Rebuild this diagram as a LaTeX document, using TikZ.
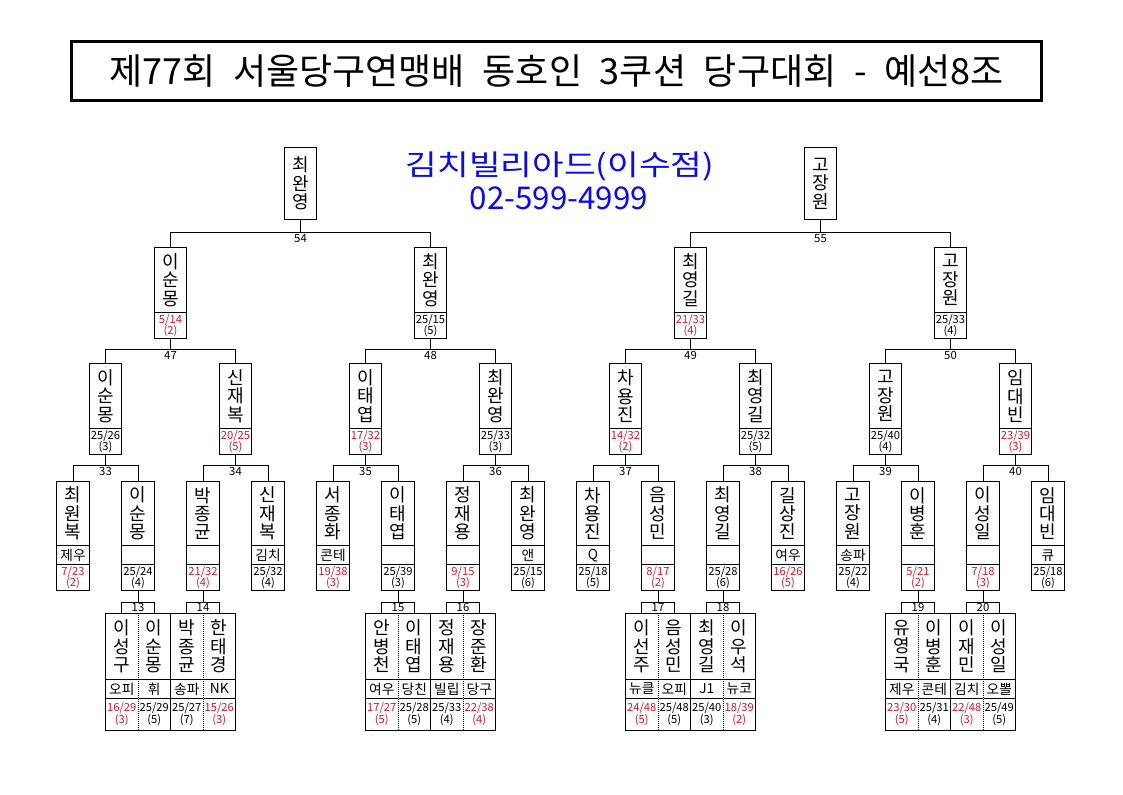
\documentclass[tikz,border=0pt]{standalone}
\usepackage{fontspec}
\setmainfont{Noto Sans CJK KR}
\newfontfamily\titlefont{Noto Sans CJK KR}[WordSpace=2.2]
\usepackage{graphicx}
\usepackage{tikz}
\usetikzlibrary{shapes.multipart}
\definecolor{losered}{RGB}{210,25,45}
\definecolor{hallblue}{RGB}{10,10,235}

% 칸 내용 (cell contents)
\newcommand{\pname}[2][47.8pt]{\parbox[c][#1][c]{24.4pt}{\centering\fontsize{13.5}{13.8}\selectfont #2}}
\newcommand{\pclub}[1]{\parbox[c][13.5pt][c]{24.4pt}{\centering\fontsize{10.3}{11}\selectfont #1}}
\newcommand{\pwin}[3][18.8pt]{\parbox[c][#1][c]{24.4pt}{\centering\fontsize{8.4}{8.6}\selectfont #2\\(#3)}}
\newcommand{\plose}[3][18.8pt]{\parbox[c][#1][c]{24.4pt}{\centering\fontsize{8.4}{8.6}\selectfont\color{losered}#2\\(#3)}}

\begin{document}
\begin{tikzpicture}[x=0.75pt, y=-0.75pt, line width=0.7pt,
    top_box/.style={draw, anchor=north, minimum width=24.4pt, minimum height=54.5pt, inner sep=0pt, align=center, font=\fontsize{13.5}{13.8}\selectfont},
    two_box/.style={draw, anchor=north, rectangle split, rectangle split parts=2, inner sep=0pt},
    three_box/.style={draw, anchor=north, rectangle split, rectangle split parts=3, inner sep=0pt},
    match_no/.style={anchor=north, inner sep=1.2pt, font=\fontsize{8.5}{9}\selectfont},
    round_box/.style={draw, anchor=north, minimum width=24.4pt, minimum height=8.25pt, inner sep=0pt, font=\fontsize{8.5}{8.5}\selectfont},
    dot_sep/.style={draw=white, line width=1.3pt, postaction={draw=black, line width=0.7pt, dash pattern=on 0.7pt off 0.8pt}}
]
\useasboundingbox (0,0) rectangle (1123,794);

% 제목 (title)
\node[draw, line width=2pt, minimum width=727.5pt, minimum height=44pt, inner sep=0pt] (title) at (556.5,70.9)
    {\titlefont\fontsize{27}{29}\selectfont 제77회 서울당구연맹배 동호인 3쿠션 당구대회 - 예선8조};
\node[text=hallblue, font=\fontsize{21.5}{24}\selectfont] (hall) at (560,166) {\scalebox{1.2}[1]{김치빌리아드(이수점)}};
\node[text=hallblue, font=\fontsize{23.5}{26}\selectfont] (phone) at (559,198) {02-599-4999};

% 결승 (top)
\node[top_box] (l1a) at (300.5,146.7) {최\\완\\영};
\node[top_box] (l1b) at (820.5,146.7) {고\\장\\원};

% 2단 (second row)
\node[two_box] (l2a) at (170.5,247.3) {\pname{이\\순\\몽}\nodepart{two}\plose{5/14}{2}};
\node[two_box] (l2b) at (430.5,247.3) {\pname{최\\완\\영}\nodepart{two}\pwin{25/15}{5}};
\node[two_box] (l2c) at (690.5,247.3) {\pname{최\\영\\길}\nodepart{two}\plose{21/33}{4}};
\node[two_box] (l2d) at (950.5,247.3) {\pname{고\\장\\원}\nodepart{two}\pwin{25/33}{4}};

% 3단 (third row)
\node[two_box] (l3a) at (105.5,363.3) {\pname{이\\순\\몽}\nodepart{two}\pwin{25/26}{3}};
\node[two_box] (l3b) at (235.5,363.3) {\pname{신\\재\\복}\nodepart{two}\plose{20/25}{5}};
\node[two_box] (l3c) at (365.5,363.3) {\pname{이\\태\\엽}\nodepart{two}\plose{17/32}{3}};
\node[two_box] (l3d) at (495.5,363.3) {\pname{최\\완\\영}\nodepart{two}\pwin{25/33}{3}};
\node[two_box] (l3e) at (625.5,363.3) {\pname{차\\용\\진}\nodepart{two}\plose{14/32}{2}};
\node[two_box] (l3f) at (755.5,363.3) {\pname{최\\영\\길}\nodepart{two}\pwin{25/32}{5}};
\node[two_box] (l3g) at (885.5,363.3) {\pname{고\\장\\원}\nodepart{two}\pwin{25/40}{4}};
\node[two_box] (l3h) at (1015.5,363.3) {\pname{임\\대\\빈}\nodepart{two}\plose{23/39}{3}};

% 4단 (fourth row)
\node[three_box] (l4a) at (73,480.7) {\pname{최\\원\\복}\nodepart{two}\pclub{제우}\nodepart{three}\plose{7/23}{2}};
\node[three_box] (l4b) at (138,480.7) {\pname{이\\순\\몽}\nodepart{two}\pclub{}\nodepart{three}\pwin{25/24}{4}};
\node[three_box] (l4c) at (203,480.7) {\pname{박\\종\\균}\nodepart{two}\pclub{}\nodepart{three}\plose{21/32}{4}};
\node[three_box] (l4d) at (268,480.7) {\pname{신\\재\\복}\nodepart{two}\pclub{김치}\nodepart{three}\pwin{25/32}{4}};
\node[three_box] (l4e) at (333,480.7) {\pname{서\\종\\화}\nodepart{two}\pclub{콘테}\nodepart{three}\plose{19/38}{3}};
\node[three_box] (l4f) at (398,480.7) {\pname{이\\태\\엽}\nodepart{two}\pclub{}\nodepart{three}\pwin{25/39}{3}};
\node[three_box] (l4g) at (463,480.7) {\pname{정\\재\\용}\nodepart{two}\pclub{}\nodepart{three}\plose{9/15}{3}};
\node[three_box] (l4h) at (528,480.7) {\pname{최\\완\\영}\nodepart{two}\pclub{앤}\nodepart{three}\pwin{25/15}{6}};
\node[three_box] (l4i) at (593,480.7) {\pname{차\\용\\진}\nodepart{two}\pclub{Q}\nodepart{three}\pwin{25/18}{5}};
\node[three_box] (l4j) at (658,480.7) {\pname{음\\성\\민}\nodepart{two}\pclub{}\nodepart{three}\plose{8/17}{2}};
\node[three_box] (l4k) at (723,480.7) {\pname{최\\영\\길}\nodepart{two}\pclub{}\nodepart{three}\pwin{25/28}{6}};
\node[three_box] (l4l) at (788,480.7) {\pname{길\\상\\진}\nodepart{two}\pclub{여우}\nodepart{three}\plose{16/26}{5}};
\node[three_box] (l4m) at (853,480.7) {\pname{고\\장\\원}\nodepart{two}\pclub{송파}\nodepart{three}\pwin{25/22}{4}};
\node[three_box] (l4n) at (918,480.7) {\pname{이\\병\\훈}\nodepart{two}\pclub{}\nodepart{three}\plose{5/21}{2}};
\node[three_box] (l4o) at (983,480.7) {\pname{이\\성\\일}\nodepart{two}\pclub{}\nodepart{three}\plose{7/18}{3}};
\node[three_box] (l4p) at (1048,480.7) {\pname{임\\대\\빈}\nodepart{two}\pclub{큐}\nodepart{three}\pwin{25/18}{6}};

% 1회전 (first round)
\node[three_box] (b13a) at (121.75,612.7) {\pname[49pt]{이\\성\\구}\nodepart{two}\pclub{오피}\nodepart{three}\plose[23pt]{16/29}{3}};
\node[three_box] (b13b) at (154.25,612.7) {\pname[49pt]{이\\순\\몽}\nodepart{two}\pclub{휘}\nodepart{three}\pwin[23pt]{25/29}{5}};
\node[three_box] (b14a) at (186.75,612.7) {\pname[49pt]{박\\종\\균}\nodepart{two}\pclub{송파}\nodepart{three}\pwin[23pt]{25/27}{7}};
\node[three_box] (b14b) at (219.25,612.7) {\pname[49pt]{한\\태\\경}\nodepart{two}\pclub{NK}\nodepart{three}\plose[23pt]{15/26}{3}};
\node[three_box] (b15a) at (381.75,612.7) {\pname[49pt]{안\\병\\천}\nodepart{two}\pclub{여우}\nodepart{three}\plose[23pt]{17/27}{5}};
\node[three_box] (b15b) at (414.25,612.7) {\pname[49pt]{이\\태\\엽}\nodepart{two}\pclub{당친}\nodepart{three}\pwin[23pt]{25/28}{5}};
\node[three_box] (b16a) at (446.75,612.7) {\pname[49pt]{정\\재\\용}\nodepart{two}\pclub{빌립}\nodepart{three}\pwin[23pt]{25/33}{4}};
\node[three_box] (b16b) at (479.25,612.7) {\pname[49pt]{장\\준\\환}\nodepart{two}\pclub{당구}\nodepart{three}\plose[23pt]{22/38}{4}};
\node[three_box] (b17a) at (641.75,612.7) {\pname[49pt]{이\\선\\주}\nodepart{two}\pclub{뉴클}\nodepart{three}\plose[23pt]{24/48}{5}};
\node[three_box] (b17b) at (674.25,612.7) {\pname[49pt]{음\\성\\민}\nodepart{two}\pclub{오피}\nodepart{three}\pwin[23pt]{25/48}{5}};
\node[three_box] (b18a) at (706.75,612.7) {\pname[49pt]{최\\영\\길}\nodepart{two}\pclub{J1}\nodepart{three}\pwin[23pt]{25/40}{3}};
\node[three_box] (b18b) at (739.25,612.7) {\pname[49pt]{이\\우\\석}\nodepart{two}\pclub{뉴코}\nodepart{three}\plose[23pt]{18/39}{2}};
\node[three_box] (b19a) at (901.75,612.7) {\pname[49pt]{유\\영\\국}\nodepart{two}\pclub{제우}\nodepart{three}\plose[23pt]{23/30}{5}};
\node[three_box] (b19b) at (934.25,612.7) {\pname[49pt]{이\\병\\훈}\nodepart{two}\pclub{콘테}\nodepart{three}\pwin[23pt]{25/31}{4}};
\node[three_box] (b20a) at (966.75,612.7) {\pname[49pt]{이\\재\\민}\nodepart{two}\pclub{김치}\nodepart{three}\plose[23pt]{22/48}{3}};
\node[three_box] (b20b) at (999.25,612.7) {\pname[49pt]{이\\성\\일}\nodepart{two}\pclub{오뽈}\nodepart{three}\pwin[23pt]{25/49}{5}};

% 경기 번호 (match numbers)
\node[match_no] (m54) at (300.5,232.3) {54};
\node[match_no] (m55) at (820.5,232.3) {55};
\node[match_no] (m47) at (170.5,349.3) {47};
\node[match_no] (m48) at (430.5,349.3) {48};
\node[match_no] (m49) at (690.5,349.3) {49};
\node[match_no] (m50) at (950.5,349.3) {50};
\node[match_no] (m33) at (105.5,465) {33};
\node[match_no] (m34) at (235.5,465) {34};
\node[match_no] (m35) at (365.5,465) {35};
\node[match_no] (m36) at (495.5,465) {36};
\node[match_no] (m37) at (625.5,465) {37};
\node[match_no] (m38) at (755.5,465) {38};
\node[match_no] (m39) at (885.5,465) {39};
\node[match_no] (m40) at (1015.5,465) {40};
\node[round_box] (m13) at (138,601.7) {13};
\node[round_box] (m14) at (203,601.7) {14};
\node[round_box] (m15) at (398,601.7) {15};
\node[round_box] (m16) at (463,601.7) {16};
\node[round_box] (m17) at (658,601.7) {17};
\node[round_box] (m18) at (723,601.7) {18};
\node[round_box] (m19) at (918,601.7) {19};
\node[round_box] (m20) at (983,601.7) {20};

% 대진선 (bracket lines)
\draw (l1a.south) -- (m54.north) -| (l2a.north) (m54.north) -| (l2b.north);
\draw (l1b.south) -- (m55.north) -| (l2c.north) (m55.north) -| (l2d.north);
\draw (l2a.south) -- (m47.north) -| (l3a.north) (m47.north) -| (l3b.north);
\draw (l2b.south) -- (m48.north) -| (l3c.north) (m48.north) -| (l3d.north);
\draw (l2c.south) -- (m49.north) -| (l3e.north) (m49.north) -| (l3f.north);
\draw (l2d.south) -- (m50.north) -| (l3g.north) (m50.north) -| (l3h.north);
\draw (l3a.south) -- (m33.north) -| (l4a.north) (m33.north) -| (l4b.north);
\draw (l3b.south) -- (m34.north) -| (l4c.north) (m34.north) -| (l4d.north);
\draw (l3c.south) -- (m35.north) -| (l4e.north) (m35.north) -| (l4f.north);
\draw (l3d.south) -- (m36.north) -| (l4g.north) (m36.north) -| (l4h.north);
\draw (l3e.south) -- (m37.north) -| (l4i.north) (m37.north) -| (l4j.north);
\draw (l3f.south) -- (m38.north) -| (l4k.north) (m38.north) -| (l4l.north);
\draw (l3g.south) -- (m39.north) -| (l4m.north) (m39.north) -| (l4n.north);
\draw (l3h.south) -- (m40.north) -| (l4o.north) (m40.north) -| (l4p.north);
\draw (l4b.south) -- (m13.north);
\draw (l4c.south) -- (m14.north);
\draw (l4f.south) -- (m15.north);
\draw (l4g.south) -- (m16.north);
\draw (l4j.south) -- (m17.north);
\draw (l4k.south) -- (m18.north);
\draw (l4n.south) -- (m19.north);
\draw (l4o.south) -- (m20.north);

% 점선 구분 (dotted dividers)
\draw[dot_sep] (b13a.north east) -- (b13a.south east);
\draw[dot_sep] (b14a.north east) -- (b14a.south east);
\draw[dot_sep] (b15a.north east) -- (b15a.south east);
\draw[dot_sep] (b16a.north east) -- (b16a.south east);
\draw[dot_sep] (b17a.north east) -- (b17a.south east);
\draw[dot_sep] (b18a.north east) -- (b18a.south east);
\draw[dot_sep] (b19a.north east) -- (b19a.south east);
\draw[dot_sep] (b20a.north east) -- (b20a.south east);

\end{tikzpicture}
\end{document}
